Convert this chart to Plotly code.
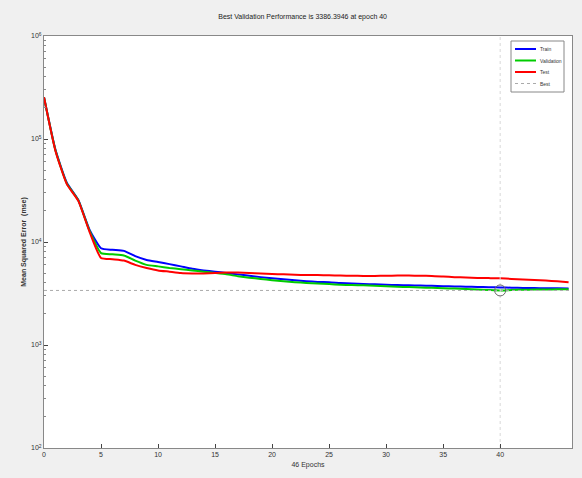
import plotly.graph_objects as go

epochs = list(range(0, 47))
train_mse = [254000, 79000, 37700, 25700, 13100, 8700, 8400, 8200, 7300, 6700,
             6400, 6100, 5800, 5500, 5300, 5150, 5000, 4850, 4700, 4560,
             4450, 4350, 4260, 4170, 4100, 4070, 4000, 3950, 3900, 3890,
             3850, 3820, 3800, 3780, 3750, 3720, 3700, 3680, 3660, 3640,
             3620, 3600, 3580, 3570, 3560, 3550, 3540]
val_mse = [254000, 78000, 37000, 25500, 12800, 7800, 7600, 7400, 6600, 6000,
           5800, 5600, 5450, 5300, 5150, 5000, 4850, 4650, 4500, 4380,
           4250, 4150, 4070, 4000, 3950, 3900, 3850, 3820, 3800, 3760,
           3720, 3680, 3650, 3620, 3590, 3560, 3530, 3500, 3460, 3420,
           3386.3946, 3420, 3440, 3450, 3460, 3470, 3480]
test_mse = [254000, 77000, 36500, 25200, 12500, 7000, 6800, 6600, 6000, 5600,
            5300, 5150, 5000, 4950, 4950, 5000, 5050, 5050, 5000, 4950,
            4900, 4850, 4800, 4780, 4770, 4750, 4730, 4700, 4680, 4680,
            4700, 4720, 4720, 4700, 4680, 4620, 4560, 4520, 4480, 4460,
            4440, 4380, 4330, 4280, 4230, 4150, 4070]
best_epoch = 40
best_perf = 3386.3946
x_max = 46.3
x_ticks = [0, 5, 10, 15, 20, 25, 30, 35, 40]
y_ticks = [1e2, 1e3, 1e4, 1e5, 1e6]
y_ticktext = ["10<sup>2</sup>", "10<sup>3</sup>", "10<sup>4</sup>", "10<sup>5</sup>", "10<sup>6</sup>"]
y_minor = [m * 10 ** d for d in range(2, 6) for m in range(2, 10)]
legend_names = ["Train", "Validation", "Test", "Best"]
legend_colors = ["#0000ff", "#00cc00", "#ff0000", "#aaaaaa"]

W, H = 582, 478
ML, MR, MT, MB = 44, 10, 36, 30

fig = go.Figure()
fig.add_trace(go.Scatter(x=epochs, y=train_mse, mode="lines", name="Train",
                         line=dict(color=legend_colors[0], width=2, shape="spline", smoothing=0.5)))
fig.add_trace(go.Scatter(x=epochs, y=val_mse, mode="lines", name="Validation",
                         line=dict(color=legend_colors[1], width=2, shape="spline", smoothing=0.5)))
fig.add_trace(go.Scatter(x=epochs, y=test_mse, mode="lines", name="Test",
                         line=dict(color=legend_colors[2], width=2, shape="spline", smoothing=0.5)))
fig.add_trace(go.Scatter(x=[0, x_max], y=[best_perf, best_perf], mode="lines", name="Best",
                         line=dict(color=legend_colors[3], width=1, dash="dot")))
fig.add_trace(go.Scatter(x=[best_epoch, best_epoch], y=[1e2, 1e6], mode="lines",
                         line=dict(color="#d8d8d8", width=1, dash="dot")))
fig.add_trace(go.Scatter(x=[best_epoch], y=[best_perf], mode="markers",
                         marker=dict(symbol="circle-open", size=11, color="#666666",
                                     line=dict(width=1))))

# compact MATLAB-style legend box
pw, ph = W - ML - MR, H - MT - MB
def fx(px):
    return (px - ML) / pw
def fy(py):
    return 1 - (py - MT) / ph

shapes = [dict(type="rect", xref="paper", yref="paper",
               x0=fx(511), x1=fx(564), y0=fy(92), y1=fy(41),
               fillcolor="white", line=dict(color="#888888", width=1))]
annotations = []
for i, (nm, col) in enumerate(zip(legend_names, legend_colors)):
    yy = 49 + i * 11.5
    shapes.append(dict(type="line", xref="paper", yref="paper",
                       x0=fx(515), x1=fx(536), y0=fy(yy), y1=fy(yy),
                       line=dict(color=col, width=1 if nm == "Best" else 2,
                                 dash="dot" if nm == "Best" else "solid")))
    annotations.append(dict(xref="paper", yref="paper", x=fx(538), y=fy(yy),
                            text=nm, showarrow=False, xanchor="left", yanchor="middle",
                            font=dict(size=5, color="#333333")))

fig.update_layout(
    width=W, height=H,
    paper_bgcolor="#f0f0f0", plot_bgcolor="white",
    margin=dict(l=ML, r=MR, t=MT, b=MB, autoexpand=False),
    font=dict(family="Liberation Sans", size=7, color="#333333"),
    title=dict(text="Best Validation Performance is 3386.3946 at epoch 40",
               x=0.52, xanchor="center", y=1 - 17 / H, yanchor="middle",
               font=dict(size=7, color="#222222")),
    showlegend=False,
    shapes=shapes, annotations=annotations,
)
fig.update_xaxes(range=[0, x_max], tickvals=x_ticks, ticks="inside", ticklen=4,
                 showgrid=False, zeroline=False, showline=True, linecolor="#888888",
                 mirror=True, automargin=False,
                 title=dict(text="46 Epochs", standoff=4, font=dict(size=7)))
fig.update_yaxes(type="log", range=[2, 6], tickvals=y_ticks, ticktext=y_ticktext,
                 ticks="inside", ticklen=4, showgrid=False, zeroline=False,
                 showline=True, linecolor="#888888", mirror=True, automargin=False,
                 minor=dict(tickmode="array", tickvals=y_minor, ticks="inside",
                            ticklen=2, tickcolor="#888888"),
                 title=dict(text="<b>Mean Squared Error  (mse)</b>", standoff=3,
                            font=dict(size=7)))

fig.write_html("out.html", config={"displayModeBar": False},
               post_script="document.body.style.margin='0';")
